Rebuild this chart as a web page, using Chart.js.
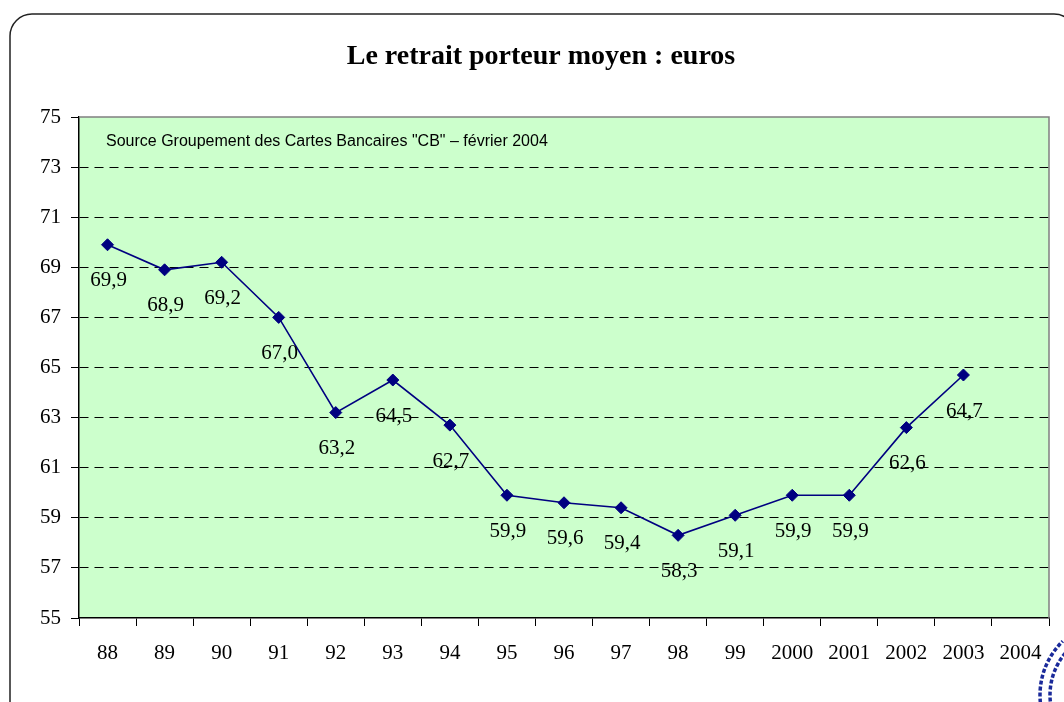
<!DOCTYPE html>
<html>
<head>
<meta charset="utf-8">
<script src="https://cdn.jsdelivr.net/npm/chart.js@4"></script>
<style>
  html, body { margin: 0; padding: 0; background: #fff; overflow: hidden; }
  #wrap { position: relative; width: 1064px; height: 702px; }
</style>
</head>
<body>
<div id="wrap"><canvas id="retraitChart" width="1064" height="702"></canvas></div>
<script>
// Données
const years = ['88', '89', '90', '91', '92', '93', '94', '95', '96', '97', '98', '99', '2000', '2001', '2002', '2003', '2004'];
const retraitMoyen = [69.9, 68.9, 69.2, 67.0, 63.2, 64.5, 62.7, 59.9, 59.6, 59.4, 58.3, 59.1, 59.9, 59.9, 62.6, 64.7, null];
const yTicks = [55, 57, 59, 61, 63, 65, 67, 69, 71, 73, 75];

const chartTitle = 'Le retrait porteur moyen : euros';
const sourceNote = 'Source Groupement des Cartes Bancaires "CB" \u2013 f\u00e9vrier 2004';

const SERIF = '"Liberation Serif", "Times New Roman", serif';
const SANS = '"Liberation Sans", Arial, sans-serif';

// cadre arrondi, fond vert de la zone de tracé, titre, source, étiquettes
const decorPlugin = {
  id: 'decor',
  beforeDraw(chart) {
    const { ctx, chartArea: a } = chart;
    ctx.save();
    // cadre
    ctx.strokeStyle = '#222';
    ctx.lineWidth = 1.5;
    ctx.beginPath();
    ctx.roundRect(10, 14, 1066, 720, 22);
    ctx.stroke();
    // fond de la zone de tracé
    ctx.fillStyle = '#CCFFCC';
    ctx.fillRect(a.left, a.top, a.right - a.left, a.bottom - a.top);
    // titre
    ctx.fillStyle = '#000';
    ctx.font = 'bold 28px ' + SERIF;
    ctx.textAlign = 'center';
    ctx.textBaseline = 'alphabetic';
    ctx.fillText(chartTitle, 541, 64);
    ctx.restore();
  },
  beforeDatasetsDraw(chart) {
    const { ctx, chartArea: a } = chart;
    ctx.save();
    // bord haut et droit gris
    ctx.strokeStyle = '#808080';
    ctx.lineWidth = 1.5;
    ctx.beginPath();
    ctx.moveTo(a.left, a.top);
    ctx.lineTo(a.right, a.top);
    ctx.lineTo(a.right, a.bottom);
    ctx.stroke();
    // source
    ctx.fillStyle = '#000';
    ctx.font = '16px ' + SANS;
    ctx.textAlign = 'left';
    ctx.textBaseline = 'middle';
    ctx.fillText(sourceNote, 106, 142);
    ctx.restore();
  },
  afterDatasetsDraw(chart) {
    const { ctx } = chart;
    const meta = chart.getDatasetMeta(0);
    ctx.save();
    ctx.fillStyle = '#000';
    ctx.font = '21px ' + SERIF;
    ctx.textAlign = 'center';
    ctx.textBaseline = 'middle';
    meta.data.forEach((pt, i) => {
      const v = retraitMoyen[i];
      if (v == null) return;
      ctx.fillText(v.toFixed(1).replace('.', ','), pt.x + 1, pt.y + 36);
    });
    ctx.restore();
  },
  afterDraw(chart) {
    // logo CB (coin bas droit), approximation
    const { ctx } = chart;
    ctx.save();
    ctx.strokeStyle = '#1a2a9a';
    ctx.lineWidth = 3.5;
    ctx.setLineDash([4, 2]);
    [75, 65].forEach(r => {
      ctx.beginPath();
      ctx.arc(1115, 695, r, Math.PI - 0.1, Math.PI + 0.8);
      ctx.stroke();
    });
    ctx.restore();
  }
};

const ctx = document.getElementById('retraitChart').getContext('2d');
new Chart(ctx, {
  type: 'line',
  data: {
    labels: years,
    datasets: [{
      data: retraitMoyen,
      borderColor: '#000080',
      backgroundColor: '#000080',
      borderWidth: 1.6,
      pointStyle: 'rectRot',
      pointRadius: 6,
      pointBorderWidth: 1,
      pointBorderColor: '#000080',
      pointBackgroundColor: '#000080',
      tension: 0,
      spanGaps: false
    }]
  },
  options: {
    responsive: false,
    animation: false,
    layout: { padding: { top: 117, right: 15, bottom: 0, left: 0 } },
    plugins: {
      legend: { display: false },
      title: { display: false },
      tooltip: { enabled: false }
    },
    scales: {
      x: {
        offset: true,
        afterFit(s) { s.height = 84; },
        grid: {
          offset: true,
          drawOnChartArea: false,
          drawTicks: true,
          tickLength: 8,
          tickColor: '#000',
          tickWidth: 1
        },
        border: { display: true, color: '#000', width: 1.5 },
        ticks: {
          color: '#000',
          font: { family: SERIF, size: 21 },
          padding: 15,
          maxRotation: 0,
          autoSkip: false
        }
      },
      y: {
        min: 55,
        max: 75,
        afterFit(s) { s.width = 79; },
        afterBuildTicks(s) { s.ticks = yTicks.map(v => ({ value: v })); },
        grid: {
          color: c => (c.tick && (c.tick.value === 75 || c.tick.value === 55)) ? 'rgba(0,0,0,0)' : '#000',
          lineWidth: 1,
          drawTicks: true,
          tickLength: 8,
          tickColor: '#000',
          tickWidth: 1,
          tickBorderDash: [0, 0]
        },
        border: { display: true, color: '#000', width: 1.5, dash: [9, 6] },
        ticks: {
          color: '#000',
          font: { family: SERIF, size: 21 },
          padding: 10,
          callback: v => String(v)
        }
      }
    }
  },
  plugins: [decorPlugin]
});
</script>
</body>
</html>
